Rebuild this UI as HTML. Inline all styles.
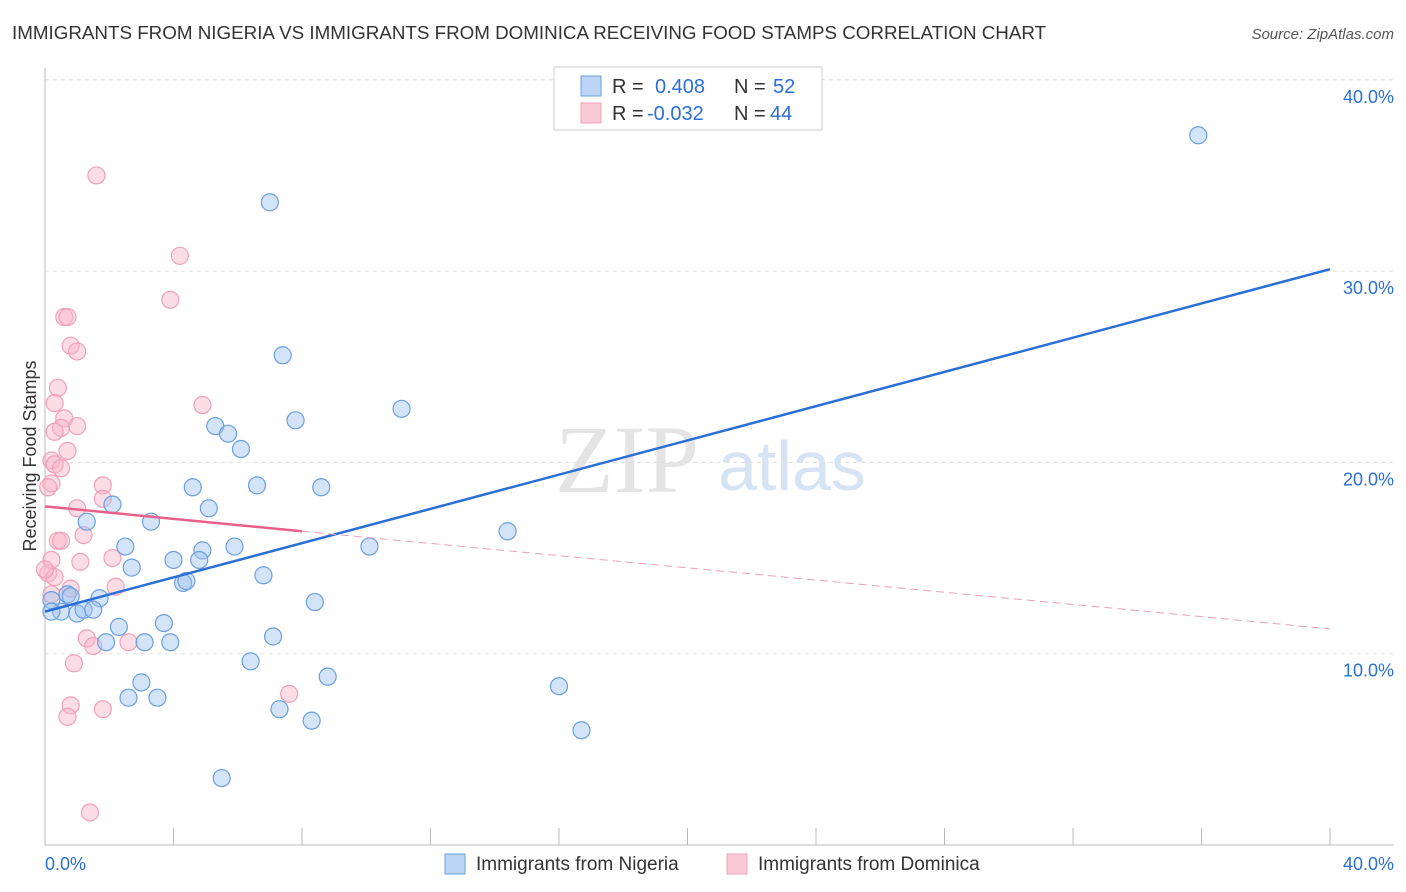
<!DOCTYPE html>
<html><head><meta charset="utf-8"><style>
body{margin:0;background:#fff;font-family:"Liberation Sans",sans-serif;}
#w{position:relative;width:1406px;height:892px;overflow:hidden;}
</style></head><body><div id="w">
<svg id="s" width="1406" height="892" xmlns="http://www.w3.org/2000/svg">
<text x="12" y="39" font-size="18.8" fill="#333">IMMIGRANTS FROM NIGERIA VS IMMIGRANTS FROM DOMINICA RECEIVING FOOD STAMPS CORRELATION CHART</text>
<text x="1394" y="39" font-size="15" fill="#555" font-style="italic" text-anchor="end">Source: ZipAtlas.com</text>
<text x="36" y="456" font-size="18" fill="#333" transform="rotate(-90 36 456)" text-anchor="middle">Receiving Food Stamps</text>
<text x="555" y="492" font-size="96" fill="#e4e4e4" font-family="Liberation Serif,serif">ZIP</text>
<text x="718" y="490" font-size="70" fill="#d6e3f5">atlas</text>
<g id="grid"></g><g id="pts"></g><g id="lines"></g>
<rect x="554" y="67" width="268" height="63" fill="#fff" stroke="#ccc"/>
<rect x="581" y="76" width="20" height="20" fill="#bcd4f5" stroke="#6a9fe0"/>
<rect x="581" y="103" width="20" height="20" fill="#fbcad8" stroke="#f0a0b8"/>
<text font-size="20" fill="#333"><tspan x="612" y="93">R = </tspan><tspan x="655" fill="#2a6fd6">0.408</tspan><tspan x="734">N = </tspan><tspan x="773" fill="#2a6fd6">52</tspan></text>
<text font-size="20" fill="#333"><tspan x="612" y="120">R = </tspan><tspan x="647" fill="#2a6fd6">-0.032</tspan><tspan x="734">N = </tspan><tspan x="770" fill="#2a6fd6">44</tspan></text>
<text x="45" y="870" font-size="18" fill="#2a6fd6">0.0%</text>
<text x="1394" y="870" font-size="18" fill="#2a6fd6" text-anchor="end">40.0%</text>
<rect x="445" y="854" width="20" height="20" fill="#bcd4f5" stroke="#6a9fe0"/>
<text x="476" y="870" font-size="19" fill="#333">Immigrants from Nigeria</text>
<rect x="727" y="854" width="20" height="20" fill="#fbcad8" stroke="#f0a0b8"/>
<text x="758" y="870" font-size="19" fill="#333">Immigrants from Dominica</text>
</svg></div>
<script>
const yTicks=[10,20,30,40];
const nigX=[35.9,7,7.4,11.1,7.8,5.3,5.7,6.1,4.6,6.6,8.6,2.1,5.1,3.3,1.3,14.4,2.5,4,4.9,5.9,10.1,2.7,4.8,4.3,4.4,6.8,1.7,0.7,0.5,1,1.2,1.5,8.4,3.7,2.3,3.1,3.9,1.9,7.1,6.4,8.8,16,3,2.6,3.5,7.3,8.3,16.7,5.5,0.2,0.2,0.8];
const nigY=[37.1,33.6,25.6,22.8,22.2,21.9,21.5,20.7,18.7,18.8,18.7,17.8,17.6,16.9,16.9,16.4,15.6,14.9,15.4,15.6,15.6,14.5,14.9,13.7,13.8,14.1,12.9,13.1,12.2,12.1,12.3,12.3,12.7,11.6,11.4,10.6,10.6,10.6,10.9,9.6,8.8,8.3,8.5,7.7,7.7,7.1,6.5,6,3.5,12.8,12.2,13];
const domX=[1.6,4.2,3.9,0.6,0.7,0.8,1,0.4,0.3,0.6,0.5,1,0.3,0.7,0.2,0.3,0.5,0.2,0.1,1.8,1.8,1,0.4,0.5,1.2,0.2,1.1,2.1,2.2,0.1,0.8,0.2,1.3,1.5,2.6,0.9,0.8,0.7,1.8,7.6,1.4,4.9,0.3,0];
const domY=[35,30.8,28.5,27.6,27.6,26.1,25.8,23.9,23.1,22.3,21.8,21.9,21.6,20.6,20.1,19.9,19.7,18.9,18.7,18.8,18.1,17.6,15.9,15.9,16.2,14.9,14.8,15,13.5,14.2,13.4,13.1,10.8,10.4,10.6,9.5,7.3,6.7,7.1,7.9,1.7,23,14,14.4];
const nigTrend=[[0,12.2],[40,30.1]];
const domTrend=[[0,17.7],[8,16.4],[40,11.3]];
const X=v=>45+v/40*1285, Y=v=>845-v*19.13;
const NS='http://www.w3.org/2000/svg';
function mk(t,a,p){const e=document.createElementNS(NS,t);for(const k in a)e.setAttribute(k,a[k]);document.getElementById(p).appendChild(e);return e;}
yTicks.forEach(t=>{
 const l=mk('line',{x1:45,x2:1394,y1:Y(t),y2:Y(t),stroke:'#ddd','stroke-dasharray':'4 4'},'grid');
 
 
 const tx=mk('text',{x:1394,y:Y(t)+23,'font-size':18,fill:'#2a6fd6','text-anchor':'end'},'grid');
 tx.textContent=t.toFixed(1)+'%';
 
 
});
const ax=mk('line',{x1:45,x2:45,y1:68,y2:845,stroke:'#bbb'},'grid');


const bx=mk('line',{x1:45,x2:1394,y1:845,y2:845,stroke:'#bbb'},'grid');


for(let i=1;i<=10;i++){const t=mk('line',{x1:X(i*4),x2:X(i*4),y1:828,y2:845,stroke:'#bbb'},'grid');
 
 }
domX.forEach((x,i)=>{const c=mk('circle',{cx:X(x),cy:Y(domY[i]),r:8.5,fill:'rgba(248,180,200,0.45)',stroke:'#f0a0b8','stroke-width':1.2},'pts');
 
 });
nigX.forEach((x,i)=>{const c=mk('circle',{cx:X(x),cy:Y(nigY[i]),r:8.5,fill:'rgba(160,195,240,0.45)',stroke:'#6a9fe0','stroke-width':1.2},'pts');
 
 });
const bl=mk('line',{x1:X(nigTrend[0][0]),y1:Y(nigTrend[0][1]),x2:X(nigTrend[1][0]),y2:Y(nigTrend[1][1]),stroke:'#2a6fd6','stroke-width':2.5},'lines');


const pl=mk('line',{x1:X(domTrend[0][0]),y1:Y(domTrend[0][1]),x2:X(domTrend[1][0]),y2:Y(domTrend[1][1]),stroke:'#e8608a','stroke-width':2.5},'lines');


const pd=mk('line',{x1:X(domTrend[1][0]),y1:Y(domTrend[1][1]),x2:X(domTrend[2][0]),y2:Y(domTrend[2][1]),stroke:'#e8a0b8','stroke-width':1,'stroke-dasharray':'8 5'},'lines');


</script></body></html>
